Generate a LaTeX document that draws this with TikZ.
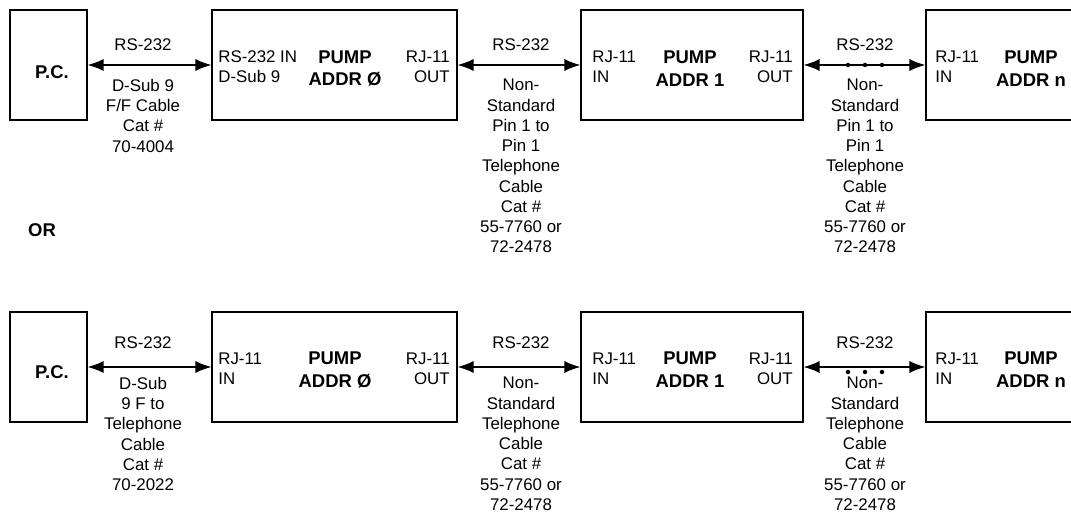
\documentclass[tikz,border=0pt]{standalone}
\usepackage{fontspec}
\setmainfont{Liberation Sans}
\usetikzlibrary{arrows.meta}

\begin{document}
\begin{tikzpicture}[
  font=\fontsize{9.6}{11.5}\selectfont,
  box/.style={draw, line width=0.6pt, minimum height=2.2cm, inner sep=0pt},
  cable/.style={{Latex[length=3.2mm,width=2.4mm]}-{Latex[length=3.2mm,width=2.4mm]}, line width=0.8pt},
  heavy/.style={font=\fontsize{10.5}{13}\selectfont\bfseries, align=center, inner sep=0pt},
  port/.style={inner sep=0pt},
  note/.style={inner sep=0pt},
  cat/.style={align=center, anchor=north, inner sep=0pt}]
\useasboundingbox (0,0) rectangle (21.42,10.24);
\clip (0,0) rectangle (21.42,10.24);

% upper row
\node[box, minimum width=1.54cm] (pcA) at (0.97,8.94) {};
\node[box, minimum width=4.9cm] (pumpA0) at (6.69,8.94) {};
\node[box, minimum width=4.44cm] (pumpA1) at (13.84,8.94) {};
\node[box, minimum width=4.44cm] (pumpAn) at (20.74,8.94) {};

\node[heavy] (pcAtxt) at (1.04,8.8) {P.C.};
\node[port, anchor=west, align=left] (pumpA0in) at (4.36,8.9) {RS-232 IN\\D-Sub 9};
\node[heavy] (pumpA0txt) at (6.9,8.87) {PUMP\\ADDR Ø};
\node[port, anchor=east, align=right] (pumpA0out) at (9.0,8.9) {RJ-11\\OUT};
\node[port, anchor=west, align=left] (pumpA1in) at (11.84,8.9) {RJ-11\\IN};
\node[heavy] (pumpA1txt) at (13.8,8.87) {PUMP\\ADDR 1};
\node[port, anchor=east, align=right] (pumpA1out) at (15.86,8.9) {RJ-11\\OUT};
\node[port, anchor=west, align=left] (pumpAnin) at (18.7,8.9) {RJ-11\\IN};
\node[heavy] (pumpAntxt) at (20.62,8.87) {PUMP\\ADDR n};

\draw[cable] (pcA) -- (pumpA0);
\draw[cable] (pumpA0) -- (pumpA1);
\draw[cable] (pumpA1) -- (pumpAn);
\foreach \x in {16.96,17.3,17.64} \fill (\x,8.94) circle (0.045);

\node[note] (cA0) at (2.86,9.34) {RS-232};
\node[cat] (cA0cat) at (2.86,8.66) {D-Sub 9\\F/F Cable\\Cat \#\\70-4004};
\node[note] (cA1) at (10.42,9.34) {RS-232};
\node[cat] (cA1cat) at (10.42,8.66) {Non-\\Standard\\Pin 1 to\\Pin 1\\Telephone\\Cable\\Cat \#\\55-7760 or\\72-2478};
\node[note] (cAn) at (17.3,9.34) {RS-232};
\node[cat] (cAncat) at (17.3,8.66) {Non-\\Standard\\Pin 1 to\\Pin 1\\Telephone\\Cable\\Cat \#\\55-7760 or\\72-2478};

\node[heavy] (or) at (0.84,5.64) {OR};

% lower row
\node[box, minimum width=1.54cm] (pcB) at (0.97,2.9) {};
\node[box, minimum width=4.9cm] (pumpB0) at (6.69,2.9) {};
\node[box, minimum width=4.44cm] (pumpB1) at (13.84,2.9) {};
\node[box, minimum width=4.44cm] (pumpBn) at (20.74,2.9) {};

\node[heavy] (pcBtxt) at (1.04,2.8) {P.C.};
\node[port, anchor=west, align=left] (pumpB0in) at (4.36,2.86) {RJ-11\\IN};
\node[heavy] (pumpB0txt) at (6.7,2.84) {PUMP\\ADDR Ø};
\node[port, anchor=east, align=right] (pumpB0out) at (9.0,2.86) {RJ-11\\OUT};
\node[port, anchor=west, align=left] (pumpB1in) at (11.84,2.86) {RJ-11\\IN};
\node[heavy] (pumpB1txt) at (13.8,2.84) {PUMP\\ADDR 1};
\node[port, anchor=east, align=right] (pumpB1out) at (15.86,2.86) {RJ-11\\OUT};
\node[port, anchor=west, align=left] (pumpBnin) at (18.7,2.86) {RJ-11\\IN};
\node[heavy] (pumpBntxt) at (20.62,2.84) {PUMP\\ADDR n};

\draw[cable] (pcB) -- (pumpB0);
\draw[cable] (pumpB0) -- (pumpB1);
\draw[cable] (pumpB1) -- (pumpBn);
\foreach \x in {16.96,17.3,17.64} \fill (\x,2.8) circle (0.045);

\node[note] (cB0) at (2.86,3.38) {RS-232};
\node[cat] (cB0cat) at (2.86,2.7) {D-Sub\\9 F to\\Telephone\\Cable\\Cat \#\\70-2022};
\node[note] (cB1) at (10.42,3.38) {RS-232};
\node[cat] (cB1cat) at (10.42,2.7) {Non-\\Standard\\Telephone\\Cable\\Cat \#\\55-7760 or\\72-2478};
\node[note] (cBn) at (17.3,3.38) {RS-232};
\node[cat] (cBncat) at (17.3,2.7) {Non-\\Standard\\Telephone\\Cable\\Cat \#\\55-7760 or\\72-2478};
\end{tikzpicture}
\end{document}
